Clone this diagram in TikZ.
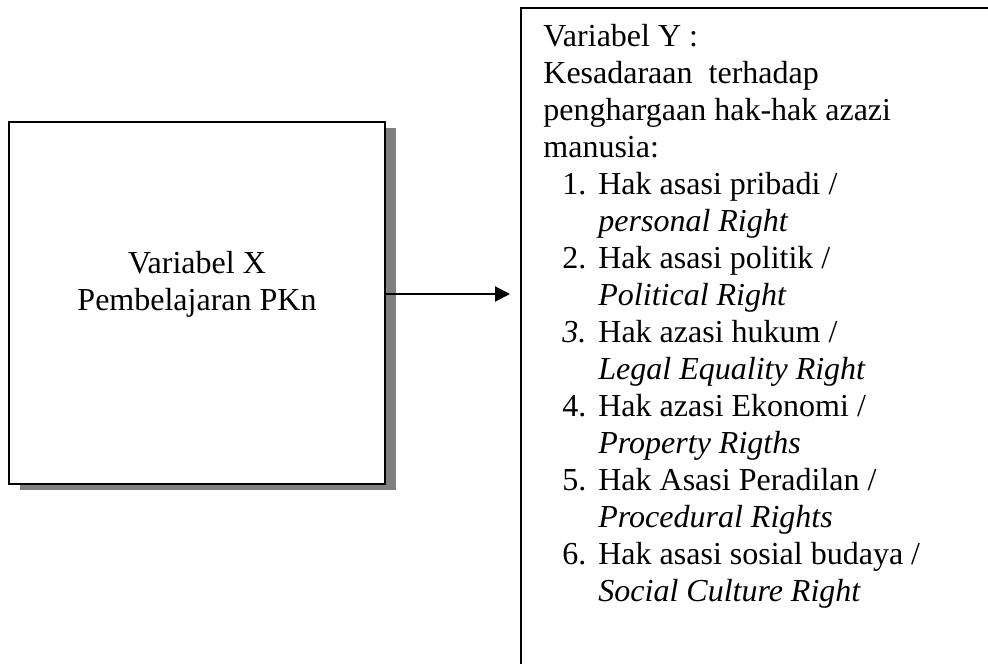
\documentclass[tikz,border=0pt]{standalone}
\usepackage{fontspec}
\setmainfont{Liberation Serif}
\usepackage{tikz}
\usetikzlibrary{
  arrows.meta,
  calc,
  positioning,
  shadows
}
\newcommand{\listno}[1]{\makebox[27.5pt][l]{\hspace{9.5pt}#1}}
\newcommand{\listind}{\hspace*{27.5pt}}

\begin{document}
\begin{tikzpicture}[
  varbox/.style={draw, line width=1pt, fill=white, inner sep=0pt},
  shadowbox/.style={varbox, drop shadow={shadow xshift=5.5pt, shadow yshift=-3pt,
               fill=gray, opacity=1}},
  boxtext/.style={inner sep=0pt, font=\fontsize{16}{18.5}\selectfont},
  arr/.style={-{Triangle[length=7.5pt, width=7.5pt]}, line width=1pt}
]
  \useasboundingbox (0,0) rectangle (494pt,331.5pt);
  \clip (0,0) rectangle (494pt,331.5pt);

  % variabel X
  \node[shadowbox, minimum width=188pt, minimum height=181pt] (varx) at (98.5pt,180pt) {};
  \node[boxtext, align=center] (varxtext) at (98.5pt,189.5pt) {Variabel X\\Pembelajaran PKn};

  % variabel Y, runs off the page
  \node[varbox, anchor=north west, minimum width=400pt, minimum height=400pt] (vary) at (260pt,328pt) {};
  \node[boxtext, align=left, anchor=north west] (varytext) at (271.5pt,319.5pt) {%
    Variabel Y :\\
    Kesadaraan\ \ terhadap\\
    penghargaan hak-hak azazi\\
    manusia:\\
    \listno{1.}Hak asasi pribadi /\\
    \listind\textit{personal Right}\\
    \listno{2.}Hak asasi politik /\\
    \listind\textit{Political Right}\\
    \listno{\textit{3.}}Hak azasi hukum /\\
    \listind\textit{Legal Equality Right}\\
    \listno{4.}Hak azasi Ekonomi /\\
    \listind\textit{Property Rigths}\\
    \listno{5.}Hak Asasi Peradilan /\\
    \listind\textit{Procedural Rights}\\
    \listno{6.}Hak asasi sosial budaya /\\
    \listind\textit{Social Culture Right}};

  \coordinate (arry) at (0,184.5pt);
  \draw[arr] (varx.east |- arry) -- ([xshift=-5pt]vary.west |- arry);
\end{tikzpicture}
\end{document}
